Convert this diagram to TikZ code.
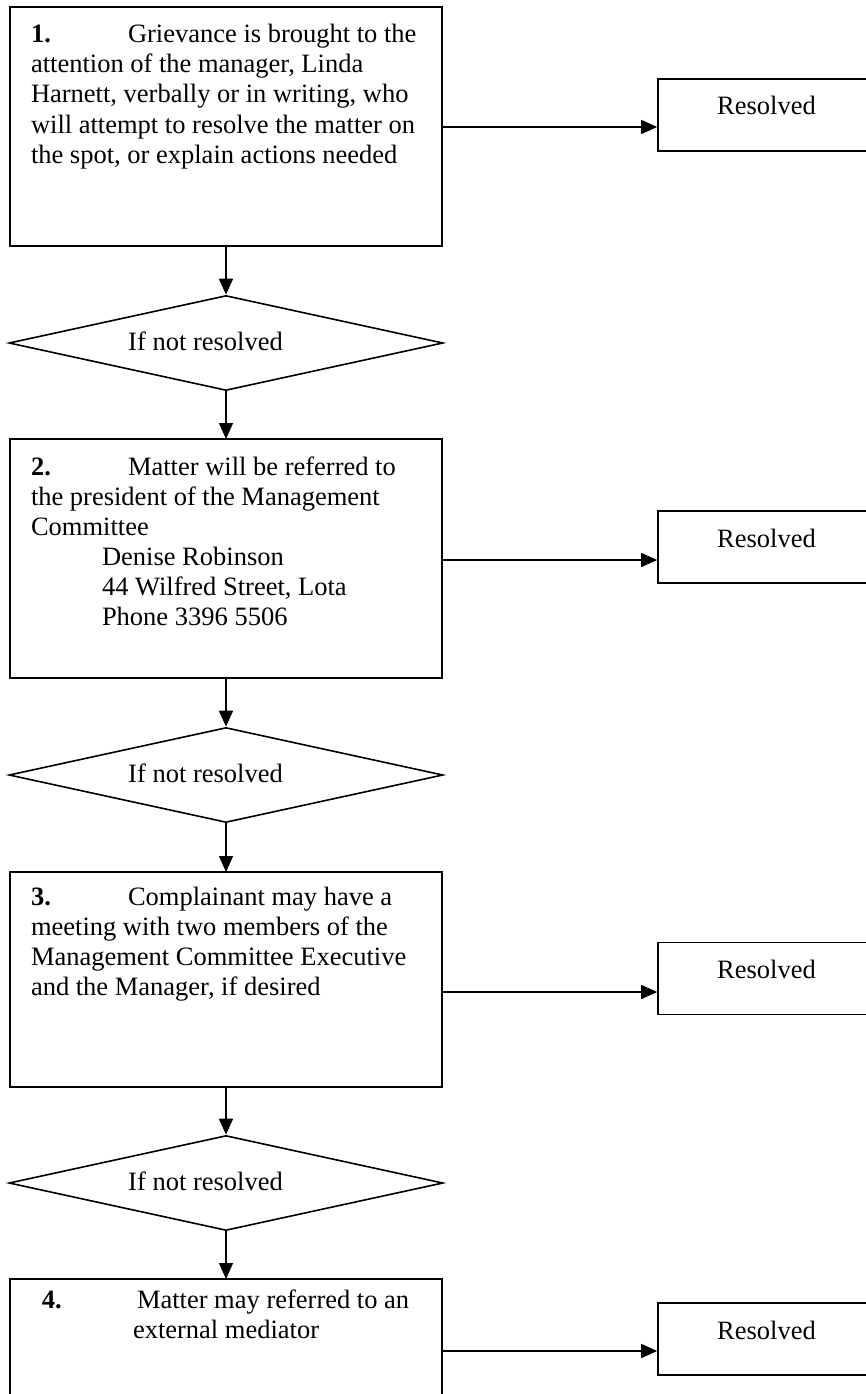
\documentclass[tikz,border=0pt]{standalone}
\usepackage{fontspec}
\setmainfont{Liberation Serif}
\usetikzlibrary{arrows.meta,shapes.geometric}
\begin{document}
\begin{tikzpicture}[x=1pt,y=-1pt,
  font=\fontsize{26.5}{30}\selectfont,
  stepbox/.style={draw,rectangle,line width=2pt,inner sep=0pt,outer sep=0pt},
  dia/.style={draw,diamond,line width=1.6pt,inner sep=0pt,aspect=4.57,minimum width=434pt,minimum height=95pt,text height=18pt,text depth=4pt},
  res/.style={draw,rectangle,line width=1.6pt,minimum width=217pt,minimum height=72pt,inner sep=0pt,text height=18pt,text depth=18pt},
  arr/.style={line width=1.4pt,-{Triangle[length=16pt,width=14pt]}}]
\useasboundingbox (0,0) rectangle (866,1394);
\clip (0,0) rectangle (866,1394);

% main boxes
\node[stepbox] (b1) at (226,126.5) {\parbox[c][239pt][t]{432pt}{\raggedright\leftskip=21pt\relax
\rule{0pt}{36pt}\makebox[97pt][l]{\textbf{1.}}Grievance is brought to the\\
attention of the manager, Linda\\
Harnett, verbally or in writing, who\\
will attempt to resolve the matter on\\
the spot, or explain actions needed}};

\node[stepbox] (b2) at (226,558.5) {\parbox[c][239pt][t]{432pt}{\raggedright\leftskip=21pt\relax
\rule{0pt}{36pt}\makebox[97pt][l]{\textbf{2.}}Matter will be referred to\\
the president of the Management\\
Committee\\
\hspace*{71pt}Denise Robinson\\
\hspace*{71pt}44 Wilfred Street, Lota\\
\hspace*{71pt}Phone 3396 5506}};

\node[stepbox] (b3) at (226,979.5) {\parbox[c][215pt][t]{432pt}{\raggedright\leftskip=21pt\relax
\rule{0pt}{33pt}\makebox[97pt][l]{\textbf{3.}}Complainant may have a\\
meeting with two members of the\\
Management Committee Executive\\
and the Manager, if desired}};

\node[stepbox] (b4) at (226,1359) {\parbox[c][160pt][t]{432pt}{\raggedright\leftskip=32pt\relax
\rule{0pt}{29pt}\makebox[95pt][l]{\textbf{4.}}Matter may referred to an\\
\hspace*{91pt}external mediator}};

% decision diamonds
\node[dia] (d1) at (226,343) {If not resolved\hspace*{41pt}};
\node[dia] (d2) at (226,775) {If not resolved\hspace*{41pt}};
\node[dia] (d3) at (226,1183) {If not resolved\hspace*{41pt}};

% resolved boxes
\node[res] (r1) at (766.5,115) {Resolved};
\node[res] (r2) at (766.5,547) {Resolved};
\node[res] (r3) at (766.5,978.5) {Resolved};
\node[res] (r4) at (766.5,1339) {Resolved};

% vertical flow
\draw[arr] (b1.south) -- (d1.north);
\draw[arr] (d1.south) -- (b2.north);
\draw[arr] (b2.south) -- (d2.north);
\draw[arr] (d2.south) -- (b3.north);
\draw[arr] (b3.south) -- (d3.north);
\draw[arr] (d3.south) -- (b4.north);

% side arrows
\coordinate (a1) at ([yshift=-12pt]r1.west);
\coordinate (a2) at ([yshift=-13pt]r2.west);
\coordinate (a3) at ([yshift=-13.5pt]r3.west);
\coordinate (a4) at ([yshift=-12pt]r4.west);
\draw[arr] (b1.east |- a1) -- (a1);
\draw[arr] (b2.east |- a2) -- (a2);
\draw[arr] (b3.east |- a3) -- (a3);
\draw[arr] (b4.east |- a4) -- (a4);
\end{tikzpicture}
\end{document}
